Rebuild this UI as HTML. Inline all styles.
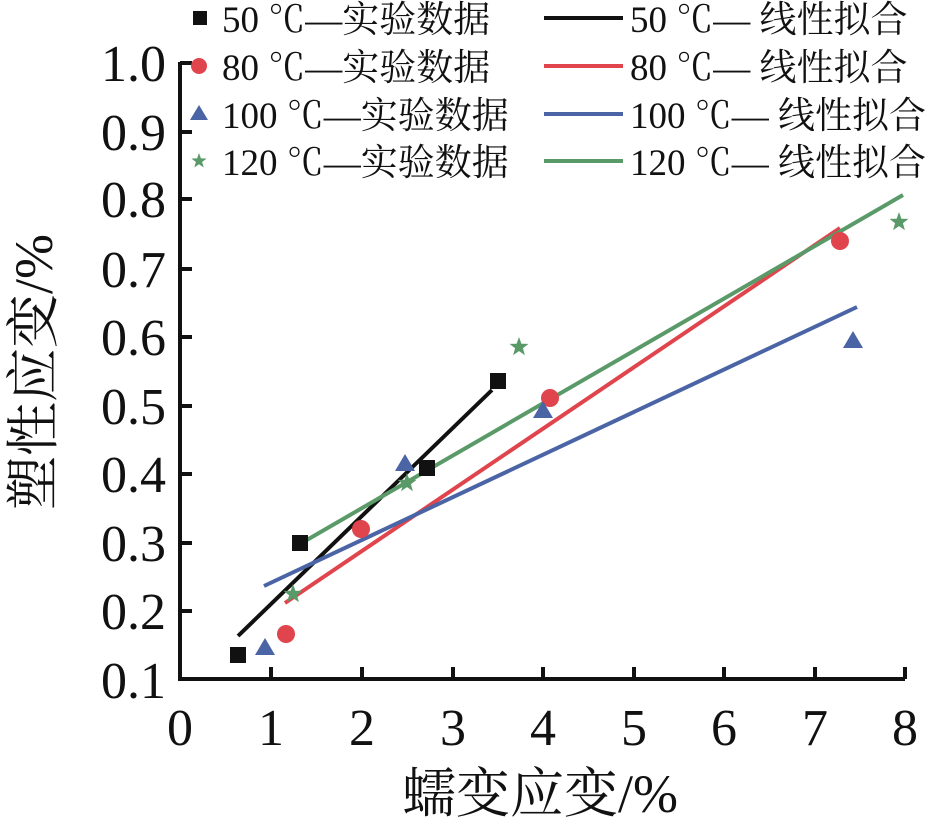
<!DOCTYPE html>
<html><head><meta charset="utf-8"><style>
body{margin:0;background:#fff;}
svg{display:block;font-family:"Liberation Serif","Noto Serif CJK SC",serif;}
</style></head><body>
<svg width="940" height="823" viewBox="0 0 940 823" xmlns="http://www.w3.org/2000/svg">
<g stroke="#111" stroke-width="4" fill="none">
<path d="M180,62 V679 H905"/>
<path d="M180,63h12M180,132h12M180,199h12M180,269h12M180,337h12M180,406h12M180,474h12M180,543h12M180,611h12"/>
<path d="M271,679v-12M362,679v-12M453,679v-12M543,679v-12M634,679v-12M724,679v-12M815,679v-12M905,679v-12"/>
</g>
<g font-size="52" fill="#111" text-anchor="end">
<text x="166" y="81">1.0</text><text x="166" y="150">0.9</text><text x="166" y="217">0.8</text>
<text x="166" y="287">0.7</text><text x="166" y="355">0.6</text><text x="166" y="424">0.5</text>
<text x="166" y="492">0.4</text><text x="166" y="561">0.3</text><text x="166" y="629">0.2</text>
<text x="166" y="698">0.1</text>
</g>
<g font-size="52" fill="#111" text-anchor="middle">
<text x="180" y="745">0</text><text x="271" y="745">1</text><text x="362" y="745">2</text><text x="453" y="745">3</text>
<text x="543" y="745">4</text><text x="634" y="745">5</text><text x="724" y="745">6</text><text x="815" y="745">7</text><text x="905" y="745">8</text>
</g>
<g font-size="54" fill="#111" text-anchor="middle">
<text x="540" y="812">蠕变应变/%</text>
<text transform="translate(52,372) rotate(-90)">塑性应变/%</text>
</g>
<g stroke-width="4" fill="none">
<line x1="238" y1="636" x2="492" y2="390" stroke="#111"/>
<line x1="285" y1="603" x2="840" y2="228" stroke="#e0444c"/>
<line x1="264" y1="586" x2="857" y2="307" stroke="#4a64a6"/>
<line x1="293" y1="548" x2="903" y2="195" stroke="#5a9a68"/>
</g>
<g fill="#111">
<rect x="230" y="647" width="16" height="16"/><rect x="292" y="535" width="16" height="16"/>
<rect x="419" y="460" width="16" height="16"/><rect x="490" y="373" width="16" height="16"/>
</g>
<g fill="#e0444c">
<circle cx="286" cy="634" r="9"/><circle cx="361" cy="529" r="9"/><circle cx="550" cy="398" r="9"/><circle cx="840" cy="241" r="9"/>
</g>
<g fill="#4a64a6">
<path d="M265,638l10,17h-20z"/><path d="M405,454l10,17h-20z"/><path d="M543,401l10,17h-20z"/><path d="M853,331l10,17h-20z"/>
</g>
<g fill="#5a9a68">
<path d="M0,-10L2.4,-3.3L9.5,-3.1L3.9,1.3L5.9,8.1L0,4.1L-5.9,8.1L-3.9,1.3L-9.5,-3.1L-2.4,-3.3Z" transform="translate(293,594)"/>
<path d="M0,-10L2.4,-3.3L9.5,-3.1L3.9,1.3L5.9,8.1L0,4.1L-5.9,8.1L-3.9,1.3L-9.5,-3.1L-2.4,-3.3Z" transform="translate(407,483)"/>
<path d="M0,-10L2.4,-3.3L9.5,-3.1L3.9,1.3L5.9,8.1L0,4.1L-5.9,8.1L-3.9,1.3L-9.5,-3.1L-2.4,-3.3Z" transform="translate(519,347)"/>
<path d="M0,-10L2.4,-3.3L9.5,-3.1L3.9,1.3L5.9,8.1L0,4.1L-5.9,8.1L-3.9,1.3L-9.5,-3.1L-2.4,-3.3Z" transform="translate(899,222)"/>
</g>
<rect x="193" y="11" width="14" height="14" fill="#111"/>
<circle cx="199" cy="66" r="8" fill="#e0444c"/>
<path d="M199,105l9,15h-18z" fill="#4a64a6"/>
<path d="M0,-8L1.9,-2.6L7.6,-2.5L3.1,1L4.7,6.5L0,3.3L-4.7,6.5L-3.1,1L-7.6,-2.5L-1.9,-2.6Z" transform="translate(199,161)" fill="#5a9a68"/>
<g font-size="37" fill="#111">
<text x="222" y="32">50 ℃—实验数据</text>
<text x="222" y="80">80 ℃—实验数据</text>
<text x="222" y="128">100 ℃—实验数据</text>
<text x="222" y="175">120 ℃—实验数据</text>
<text x="630" y="32">50 ℃— 线性拟合</text>
<text x="630" y="80">80 ℃— 线性拟合</text>
<text x="630" y="128">100 ℃— 线性拟合</text>
<text x="630" y="175">120 ℃— 线性拟合</text>
</g>
<g stroke-width="4">
<line x1="544" y1="18" x2="623" y2="18" stroke="#111"/>
<line x1="544" y1="66" x2="623" y2="66" stroke="#e0444c"/>
<line x1="544" y1="114" x2="623" y2="114" stroke="#4a64a6"/>
<line x1="544" y1="161" x2="623" y2="161" stroke="#5a9a68"/>
</g>
</svg>
</body></html>
